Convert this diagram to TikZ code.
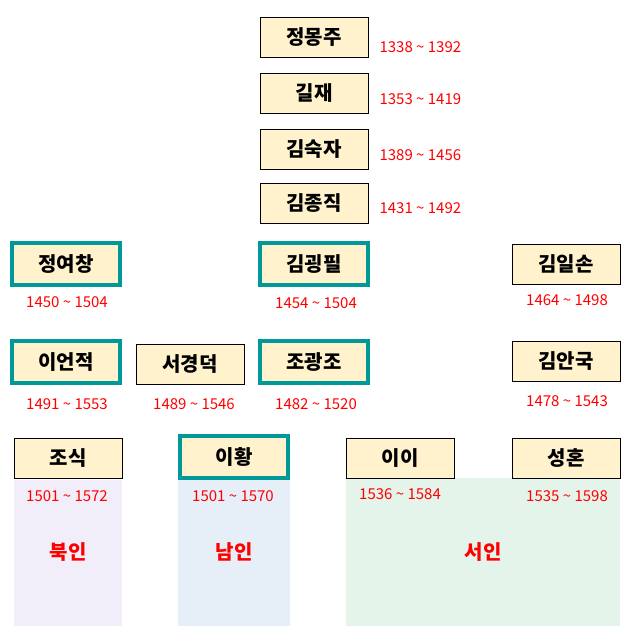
\documentclass[tikz,border=0pt]{standalone}
\usepackage{fontspec}
\setmainfont{Noto Sans CJK KR}
\usepackage{tikz}
\definecolor{cream}{HTML}{FFF2CC}
\definecolor{tealline}{HTML}{009999}
\definecolor{bukin}{HTML}{F2EEF9}
\definecolor{namin}{HTML}{E6EFF8}
\definecolor{seoin}{HTML}{E4F4EA}
\tikzstyle{person} = [draw=black,fill=cream,minimum width=108pt,minimum height=40pt,font=\fontsize{20}{20}\selectfont\bfseries,inner sep=0pt]
\tikzstyle{master} = [person,draw=tealline,line width=4pt,minimum width=108pt,minimum height=42pt]
\tikzstyle{years} = [text=red,font=\fontsize{15}{15}\selectfont]
\tikzstyle{faction} = [text=red,font=\fontsize{20}{20}\selectfont\bfseries]

\begin{document}
\begin{tikzpicture}[x=1pt,y=-1pt]
          \useasboundingbox (0,0) rectangle (638,640);
          \fill[bukin] (14,480) rectangle (122,626);
          \fill[namin] (178,480) rectangle (290,626);
          \fill[seoin] (346,478) rectangle (620,626);

          \node[person] at (314,37) (jmj) {정몽주};
          \node[person] at (314,93) (gj) {길재};
          \node[person] at (314,149) (gsj) {김숙자};
          \node[person] at (314,203) (gjj) {김종직};
          \node[master] at (66,264) (jyc) {정여창};
          \node[master] at (314,264) (ggp) {김굉필};
          \node[person] at (566,264) (gis) {김일손};
          \node[master] at (66,362) (iej) {이언적};
          \node[person] at (190,364) (sgd) {서경덕};
          \node[master] at (314,362) (jgj) {조광조};
          \node[person] at (566,361) (gag) {김안국};
          \node[person] at (68,458) (js) {조식};
          \node[master] at (234,457) (ih) {이황};
          \node[person] at (400,458) (ii) {이이};
          \node[person] at (566,458) (sh) {성혼};

          \node[years,anchor=west] at (376,47) {1338 \textasciitilde{} 1392};
          \node[years,anchor=west] at (376,99) {1353 \textasciitilde{} 1419};
          \node[years,anchor=west] at (376,155) {1389 \textasciitilde{} 1456};
          \node[years,anchor=west] at (376,208) {1431 \textasciitilde{} 1492};
          \node[years] at (67,302) {1450 \textasciitilde{} 1504};
          \node[years] at (316,303) {1454 \textasciitilde{} 1504};
          \node[years] at (567,300) {1464 \textasciitilde{} 1498};
          \node[years] at (67,404) {1491 \textasciitilde{} 1553};
          \node[years] at (194,404) {1489 \textasciitilde{} 1546};
          \node[years] at (316,404) {1482 \textasciitilde{} 1520};
          \node[years] at (567,401) {1478 \textasciitilde{} 1543};
          \node[years] at (67,496) {1501 \textasciitilde{} 1572};
          \node[years] at (233,496) {1501 \textasciitilde{} 1570};
          \node[years] at (400,494) {1536 \textasciitilde{} 1584};
          \node[years] at (567,496) {1535 \textasciitilde{} 1598};

          \node[faction] at (68,552) (buk) {북인};
          \node[faction] at (234,552) (nam) {남인};
          \node[faction] at (483,552) (seo) {서인};
        \end{tikzpicture}
\end{document}
